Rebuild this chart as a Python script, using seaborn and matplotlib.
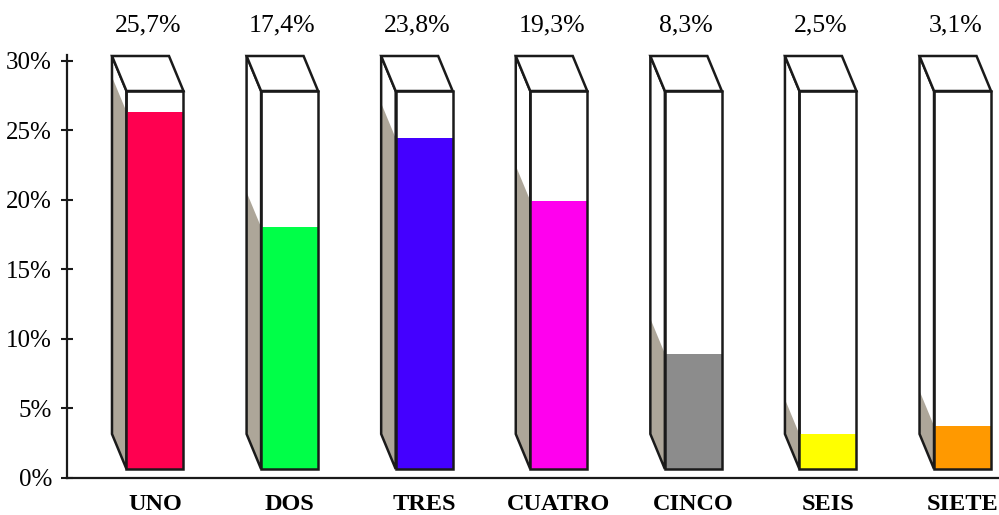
import matplotlib
matplotlib.use("Agg")
import numpy as np
import pandas as pd
import seaborn as sns
import matplotlib.pyplot as plt
from matplotlib.patches import Polygon, Rectangle
from matplotlib.transforms import ScaledTranslation

# Data
categories = ["UNO", "DOS", "TRES", "CUATRO", "CINCO", "SEIS", "SIETE"]
values = [25.7, 17.4, 23.8, 19.3, 8.3, 2.5, 3.1]
colors = ["#FF0050", "#00FF48", "#4400FF", "#FF00EE", "#8C8C8C", "#FFFF00", "#FF9900"]
y_ticks = [0, 5, 10, 15, 20, 25, 30]

# Styling
sns.set_theme(style="white")
plt.rcParams["font.family"] = ["Liberation Serif", "DejaVu Serif"]
INK = "#1a1a1a"
SIDE = "#ADA699"
LW = 1.8

W, H = 999, 515
fig = plt.figure(figsize=(W / 100, H / 100), dpi=100)
ax_left, ax_bottom, ax_top = 66.7, 477.7, 55.1   # pixel geometry of the plot area
ax = fig.add_axes([ax_left / W, (H - ax_bottom) / H,
                   (W - ax_left) / W, (ax_bottom - ax_top) / H])

df = pd.DataFrame({"categoria": categories, "valor": values})
sns.barplot(data=df, x="categoria", y="valor", hue="categoria", palette=colors,
            width=0.4235, saturation=1, errorbar=None, legend=False,
            linewidth=0, ax=ax)

ax.set_xlim(-0.656, 6.271)
ax.set_ylim(0, 30.4)

# pixels per data unit
sx = ax.bbox.width / (ax.get_xlim()[1] - ax.get_xlim()[0])
sy = ax.bbox.height / (ax.get_ylim()[1] - ax.get_ylim()[0])

# boxes sit slightly above the baseline; depth goes back-left and up
lift = ScaledTranslation(0, 8.7 / 100, fig.dpi_scale_trans)
trans = ax.transData + lift
ddx = -14.5 / sx
ddy = 35.0 / sy
box_h = 378.0 / sy   # height of the front face

for p in ax.patches:
    x0, w, v = p.get_x(), p.get_width(), p.get_height()
    p.set_transform(trans)
    p.set_zorder(3)
    p.set_clip_on(False)

    side = [(x0, 0), (x0 + ddx, ddy), (x0 + ddx, box_h + ddy), (x0, box_h)]
    ax.add_patch(Polygon(side, closed=True, facecolor="white", edgecolor="none",
                         transform=trans, zorder=1, clip_on=False))
    ax.add_patch(Polygon([(x0, 0), (x0 + ddx, ddy), (x0 + ddx, v + ddy), (x0, v)],
                         closed=True, facecolor=SIDE, edgecolor="none",
                         transform=trans, zorder=1.5, clip_on=False))
    ax.add_patch(Polygon(side, closed=True, fill=False, edgecolor=INK, lw=LW,
                         joinstyle="miter", transform=trans, zorder=2, clip_on=False))
    top = [(x0, box_h), (x0 + ddx, box_h + ddy), (x0 + w + ddx, box_h + ddy), (x0 + w, box_h)]
    ax.add_patch(Polygon(top, closed=True, facecolor="white", edgecolor=INK, lw=LW,
                         joinstyle="miter", transform=trans, zorder=2, clip_on=False))
    ax.add_patch(Rectangle((x0, 0), w, box_h, fill=False, edgecolor=INK, lw=LW,
                           joinstyle="miter", transform=trans, zorder=4, clip_on=False))

    label = f"{v:.1f}".replace(".", ",") + "%"
    ax.text(x0 + w / 2 + ddx / 2, 32.5, label, ha="center", va="center",
            fontsize=18.5, color="black", clip_on=False)

# Axes
ax.set_yticks(y_ticks)
ax.set_yticklabels([f"{t}%" for t in y_ticks])
ax.tick_params(axis="y", direction="inout", length=9, width=1.5, color=INK,
               pad=6.0, labelsize=18, labelcolor="black", left=True)
ax.tick_params(axis="x", length=0, pad=11.5, labelsize=17.5, labelcolor="black")
for lab in ax.get_xticklabels():
    lab.set_fontweight("bold")
ax.set_xlabel("")
ax.set_ylabel("")
for side_name in ("top", "right"):
    ax.spines[side_name].set_visible(False)
for side_name in ("left", "bottom"):
    ax.spines[side_name].set_color(INK)
    ax.spines[side_name].set_linewidth(1.6)

fig.savefig("out.png", dpi=100)
